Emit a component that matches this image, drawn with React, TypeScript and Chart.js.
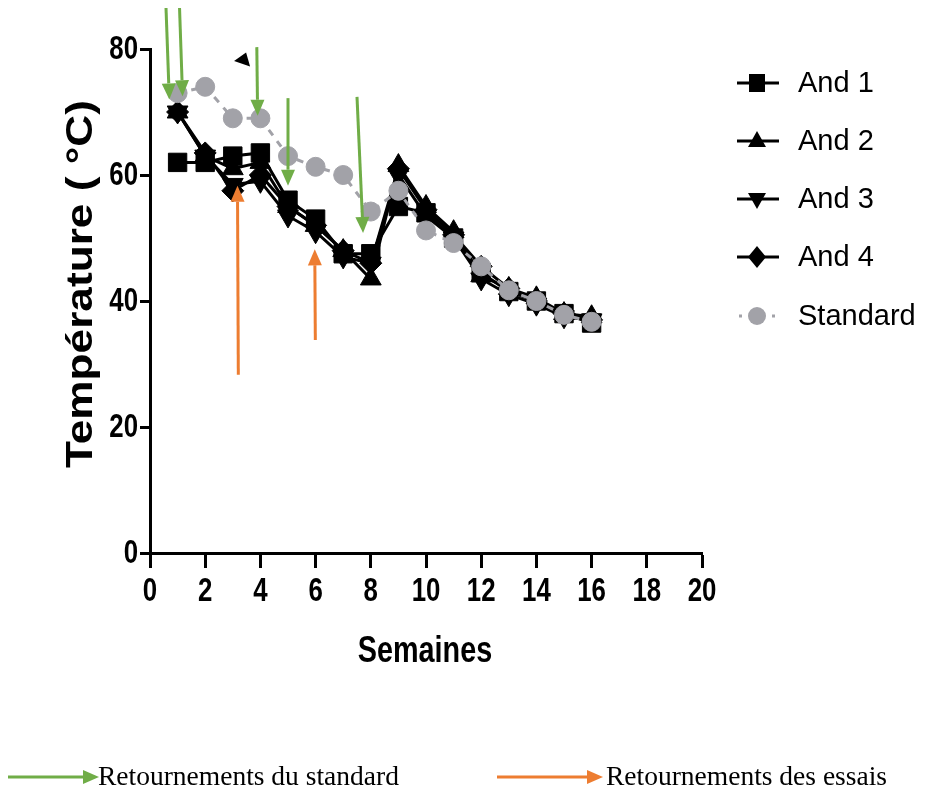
import React, { useEffect, useRef } from "react";
import { Chart, registerables } from "chart.js";

Chart.register(...registerables);

const weeks = [1, 2, 3, 4, 5, 6, 7, 8, 9, 10, 11, 12, 13, 14, 15, 16];
const and1 = [62, 62, 63, 63.5, 56, 53, 47.5, 47.5, 55, 54, 50, 44.5, 41.5, 40, 38, 36.5];
const and2 = [70, 63, 61, 62, 55, 52, 48, 43.5, 61.5, 55, 51, 44, 42, 40.5, 38, 37.5];
const and3 = [70, 63, 58.5, 59, 53.5, 51, 47, 46, 60, 53.5, 50, 43.5, 41, 39.5, 37.5, 37];
const and4 = [70, 63.5, 57.5, 60, 55, 52, 48, 46, 61, 54.5, 50.5, 45.5, 42, 40, 38, 37];
const standard = [73, 74, 69, 69, 63, 61.3, 60, 54.2, 57.5, 51.2, 49.2, 45.5, 41.7, 40, 37.8, 36.7];

const seriesNames = ["And 1", "And 2", "And 3", "And 4", "Standard"];
const xTickLabels = ["0", "2", "4", "6", "8", "10", "12", "14", "16", "18", "20"];
const yTickLabels = ["0", "20", "40", "60", "80"];
const xTitle = "Semaines";
const yTitle = "Température ( °C)";
const footLabels = ["Retournements du standard", "Retournements des essais"];

// annotation arrows in data units: [xStart, yStart, xEnd, yEnd]
const greenArrows = [
  [0.58, 86.5, 0.7, 72],
  [1.07, 86.5, 1.18, 72.5],
  [3.87, 80.3, 3.9, 69.4],
  [5.0, 72.2, 5.0, 58.3],
  [7.5, 72.4, 7.72, 50.8],
];
const orangeArrows = [
  [3.2, 28.3, 3.17, 58.3],
  [5.99, 33.8, 5.97, 48.2],
];
const strayMark = [3.3, 78.5];

const GREEN = "#70ad47";
const ORANGE = "#ed7d31";
const GRAY = "#a2a2a8";

function drawArrow(ctx: CanvasRenderingContext2D, x0: number, y0: number, x1: number, y1: number, color: string) {
  const ang = Math.atan2(y1 - y0, x1 - x0);
  const head = 16;
  const hw = 7;
  const bx = x1 - Math.cos(ang) * head;
  const by = y1 - Math.sin(ang) * head;
  ctx.save();
  ctx.strokeStyle = color;
  ctx.fillStyle = color;
  ctx.lineWidth = 3;
  ctx.beginPath();
  ctx.moveTo(x0, y0);
  ctx.lineTo(bx, by);
  ctx.stroke();
  ctx.beginPath();
  ctx.moveTo(x1, y1);
  ctx.lineTo(bx + Math.sin(ang) * hw, by - Math.cos(ang) * hw);
  ctx.lineTo(bx - Math.sin(ang) * hw, by + Math.cos(ang) * hw);
  ctx.closePath();
  ctx.fill();
  ctx.restore();
}

function drawMarker(ctx: CanvasRenderingContext2D, kind: number, x: number, y: number) {
  ctx.beginPath();
  if (kind === 0) {
    ctx.rect(x - 8, y - 9, 16, 18);
  } else if (kind === 1) {
    ctx.moveTo(x, y - 10);
    ctx.lineTo(x + 9, y + 6);
    ctx.lineTo(x - 9, y + 6);
    ctx.closePath();
  } else if (kind === 2) {
    ctx.moveTo(x, y + 10);
    ctx.lineTo(x + 9, y - 6);
    ctx.lineTo(x - 9, y - 6);
    ctx.closePath();
  } else if (kind === 3) {
    ctx.moveTo(x, y - 11);
    ctx.lineTo(x + 9, y);
    ctx.lineTo(x, y + 11);
    ctx.lineTo(x - 9, y);
    ctx.closePath();
  } else {
    ctx.arc(x, y, 9, 0, Math.PI * 2);
  }
  ctx.fill();
}

const overlayPlugin = {
  id: "overlay",
  afterDraw(chart: any) {
    const ctx: CanvasRenderingContext2D = chart.ctx;
    const xs = chart.scales.x;
    const ys = chart.scales.y;
    ctx.save();
    ctx.fillStyle = "#000";
    ctx.textBaseline = "middle";
    ctx.font = 'bold 34px "Liberation Sans", Arial, sans-serif';
    // y tick labels
    yTickLabels.forEach((lab) => {
      const py = ys.getPixelForValue(Number(lab));
      ctx.save();
      ctx.translate(xs.left - 12, py + 1);
      ctx.scale(0.76, 1);
      ctx.textAlign = "right";
      ctx.fillText(lab, 0, 0);
      ctx.restore();
    });
    // x tick labels
    xTickLabels.forEach((lab) => {
      const px = xs.getPixelForValue(Number(lab));
      ctx.save();
      ctx.translate(px, ys.bottom + 39);
      ctx.scale(0.76, 1);
      ctx.textAlign = "center";
      ctx.fillText(lab, 0, 0);
      ctx.restore();
    });
    // x title
    ctx.save();
    ctx.font = 'bold 36px "Liberation Sans", Arial, sans-serif';
    ctx.translate((xs.left + xs.right) / 2 - 1, ys.bottom + 99);
    ctx.scale(0.8, 1);
    ctx.textAlign = "center";
    ctx.fillText(xTitle, 0, 0);
    ctx.restore();
    // y title
    ctx.save();
    ctx.font = 'bold 36px "Liberation Sans", Arial, sans-serif';
    ctx.translate(82, 284);
    ctx.rotate(-Math.PI / 2);
    const w = ctx.measureText(yTitle).width;
    ctx.scale(368 / w, 1);
    ctx.textAlign = "center";
    ctx.fillText(yTitle, 0, 0);
    ctx.restore();

    // legend
    const lx0 = 737, lx1 = 779, mx = 757, tx = 798;
    const rows = [83, 141, 199, 257, 316];
    seriesNames.forEach((name, i) => {
      const y = rows[i];
      ctx.save();
      if (i < 4) {
        ctx.strokeStyle = "#000";
        ctx.lineWidth = 3;
        ctx.beginPath();
        ctx.moveTo(lx0, y);
        ctx.lineTo(lx1, y);
        ctx.stroke();
        ctx.fillStyle = "#000";
      } else {
        ctx.strokeStyle = GRAY;
        ctx.lineWidth = 3;
        ctx.setLineDash([3, 8]);
        ctx.beginPath();
        ctx.moveTo(lx0 + 2, y);
        ctx.lineTo(lx1, y);
        ctx.stroke();
        ctx.fillStyle = GRAY;
      }
      drawMarker(ctx, i, mx, y);
      ctx.restore();
      ctx.save();
      ctx.fillStyle = "#000";
      ctx.font = '29px "Liberation Sans", Arial, sans-serif';
      ctx.textAlign = "left";
      ctx.textBaseline = "middle";
      ctx.fillText(name, tx, y + 1);
      ctx.restore();
    });

    // annotation arrows
    greenArrows.forEach((a) =>
      drawArrow(ctx, xs.getPixelForValue(a[0]), ys.getPixelForValue(a[1]), xs.getPixelForValue(a[2]), ys.getPixelForValue(a[3]), GREEN)
    );
    orangeArrows.forEach((a) =>
      drawArrow(ctx, xs.getPixelForValue(a[0]), ys.getPixelForValue(a[1]), xs.getPixelForValue(a[2]), ys.getPixelForValue(a[3]), ORANGE)
    );
    // stray small black triangle
    const sx = xs.getPixelForValue(strayMark[0]);
    const sy = ys.getPixelForValue(strayMark[1]);
    ctx.fillStyle = "#000";
    ctx.beginPath();
    ctx.moveTo(sx - 7, sy + 2.5);
    ctx.lineTo(sx + 5, sy - 6);
    ctx.lineTo(sx + 9, sy + 8);
    ctx.closePath();
    ctx.fill();

    // footer arrows
    drawArrow(ctx, 8, 777, 99, 777, GREEN);
    drawArrow(ctx, 497, 777, 603, 777, ORANGE);
    ctx.restore();
  },
};

function mk(label: string, values: number[], style: string, rotation: number, order: number, radius: number) {
  return {
    label,
    data: weeks.map((w, i) => ({ x: w, y: values[i] })),
    borderColor: "#000",
    backgroundColor: "#000",
    borderWidth: 3,
    pointStyle: style,
    pointRotation: rotation,
    pointRadius: radius,
    pointBorderWidth: 1,
    pointBorderColor: "#000",
    pointBackgroundColor: "#000",
    tension: 0,
    order,
  };
}

export default function App() {
  const ref = useRef<HTMLCanvasElement | null>(null);
  useEffect(() => {
    document.body.style.margin = "0";
    if (!ref.current) return;
    const chart = new Chart(ref.current, {
      type: "line",
      data: {
        datasets: [
          mk(seriesNames[0], and1, "rect", 0, 4, 13),
          mk(seriesNames[1], and2, "triangle", 0, 3, 12),
          mk(seriesNames[2], and3, "triangle", 180, 2, 12),
          mk(seriesNames[3], and4, "rectRot", 0, 1, 11),
          {
            label: seriesNames[4],
            data: weeks.map((w, i) => ({ x: w, y: standard[i] })),
            borderColor: GRAY,
            backgroundColor: GRAY,
            borderWidth: 3,
            borderDash: [7, 7],
            pointStyle: "circle",
            pointRadius: 9.5,
            pointBorderWidth: 1,
            pointBorderColor: GRAY,
            pointBackgroundColor: GRAY,
            tension: 0,
            order: 0,
          } as any,
        ],
      },
      options: {
        animation: false,
        responsive: false,
        devicePixelRatio: 1,
        layout: { padding: { left: 140, top: 49, right: 224, bottom: 226 } },
        plugins: { legend: { display: false }, tooltip: { enabled: false } },
        scales: {
          x: {
            type: "linear",
            min: 0,
            max: 20,
            ticks: { stepSize: 2, display: false },
            grid: { drawOnChartArea: false, drawTicks: true, tickLength: 15, tickWidth: 3, tickColor: "#000" },
            border: { display: true, color: "#000", width: 3 },
          },
          y: {
            type: "linear",
            min: 0,
            max: 80,
            ticks: { stepSize: 20, display: false },
            grid: { drawOnChartArea: false, drawTicks: true, tickLength: 10, tickWidth: 3, tickColor: "#000" },
            border: { display: true, color: "#000", width: 3 },
          },
        },
      },
      plugins: [overlayPlugin],
    } as any);
    return () => chart.destroy();
  }, []);

  const footStyle = {
    position: "absolute" as const,
    top: 760,
    fontFamily: '"Liberation Serif", "Times New Roman", serif',
    fontSize: 27.5,
    lineHeight: "32px",
    color: "#000",
    whiteSpace: "nowrap" as const,
  };

  return (
    <div style={{ position: "relative", width: 926, height: 794, background: "#fff", overflow: "hidden" }}>
      <canvas ref={ref} width={926} height={794} style={{ display: "block" }} />
      <div style={{ ...footStyle, left: 98 }}>{footLabels[0]}</div>
      <div style={{ ...footStyle, left: 606 }}>{footLabels[1]}</div>
    </div>
  );
}
